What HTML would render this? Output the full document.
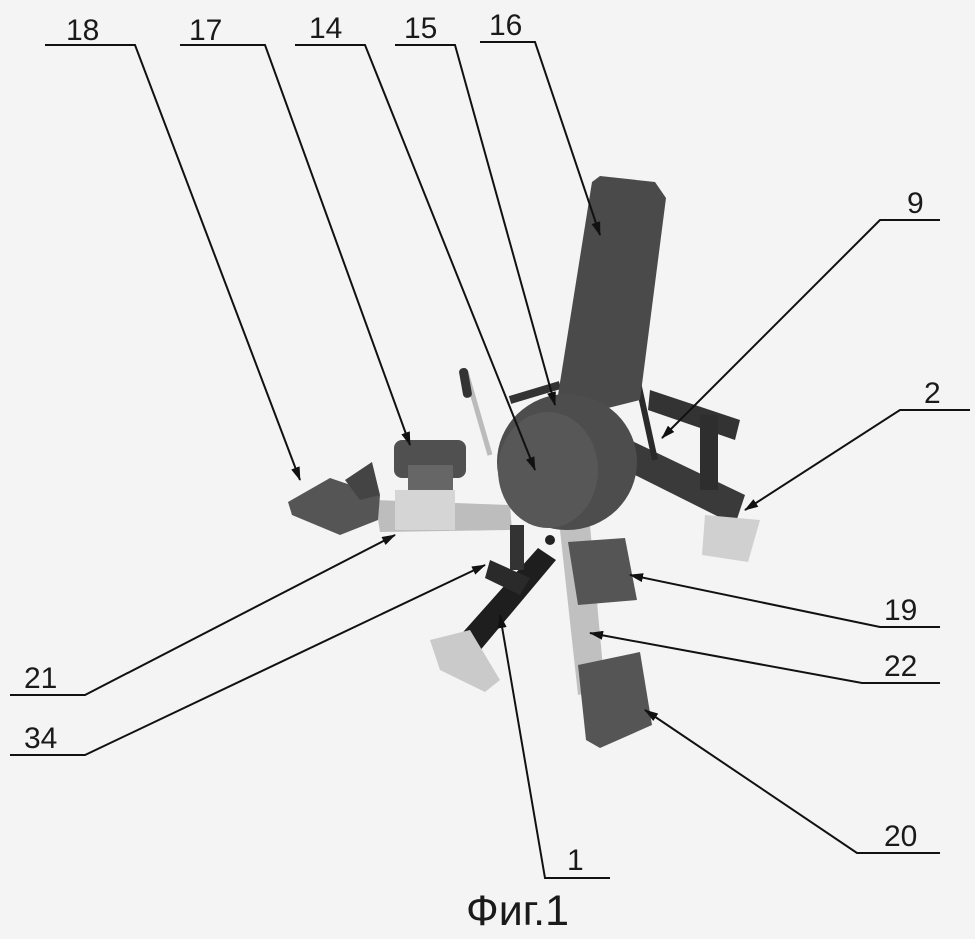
<!DOCTYPE html>
<html><head><meta charset="utf-8"><style>
html,body{margin:0;padding:0;background:#f4f4f4;}
svg{display:block}
text{font-family:"Liberation Sans",sans-serif;fill:#1a1a1a}
</style></head><body>
<svg width="975" height="939" viewBox="0 0 975 939" xmlns="http://www.w3.org/2000/svg">
<defs><marker id="a" markerWidth="14" markerHeight="9" refX="13" refY="4.5" orient="auto" markerUnits="userSpaceOnUse"><path d="M0,0 L14,4.5 L0,9 Z" fill="#111"/></marker></defs>
<rect width="975" height="939" fill="#f4f4f4"/>
<g>
<line x1="466" y1="372" x2="490" y2="455" stroke="#bbb" stroke-width="5"/>
<rect x="461" y="368" width="9" height="30" rx="4" fill="#333" transform="rotate(-10 465 383)"/>
<polygon points="375,500 510,505 512,530 380,532" fill="#bdbdbd"/>
<rect x="395" y="490" width="60" height="40" fill="#d5d5d5"/>
<polygon points="288,502 330,478 380,495 378,520 340,535 292,515" fill="#555"/>
<polygon points="345,480 372,462 380,495 360,500" fill="#444"/>
<rect x="394" y="440" width="72" height="38" rx="8" fill="#505050"/>
<rect x="408" y="465" width="45" height="25" fill="#666"/>
<polygon points="560,530 590,525 605,690 578,695" fill="#c0c0c0"/>
<polygon points="568,542 625,538 637,600 578,605" fill="#555"/>
<polygon points="578,665 640,652 652,725 600,748 586,740" fill="#555"/>
<polygon points="538,548 556,560 462,672 440,658" fill="#1e1e1e"/>
<polygon points="490,560 530,578 520,595 485,578" fill="#2a2a2a"/>
<polygon points="430,640 470,630 500,680 485,692 440,670" fill="#cacaca"/>
<rect x="510" y="525" width="14" height="45" fill="#333"/>
<circle cx="550" cy="540" r="5" fill="#222"/>
<polygon points="630,440 745,495 735,525 625,470" fill="#3a3a3a"/>
<polygon points="650,390 740,420 735,440 648,410" fill="#333"/>
<rect x="700" y="415" width="18" height="75" fill="#2e2e2e"/>
<polygon points="705,515 760,520 748,562 702,555" fill="#d0d0d0"/>
<line x1="620" y1="300" x2="655" y2="460" stroke="#2a2a2a" stroke-width="6"/>
<line x1="510" y1="400" x2="560" y2="385" stroke="#333" stroke-width="8"/>
<polygon points="592,182 600,176 655,182 666,198 640,400 600,410 558,395" fill="#4a4a4a"/>
<ellipse cx="567" cy="462" rx="70" ry="68" fill="#4d4d4d"/>
<ellipse cx="548" cy="470" rx="50" ry="58" fill="#575757"/>
</g>
<g stroke="#111" stroke-width="2" fill="none">
<polyline points="45,45 135,45 300,480" marker-end="url(#a)"/>
<polyline points="180,45 265,45 410,445" marker-end="url(#a)"/>
<polyline points="295,45 365,45 535,470" marker-end="url(#a)"/>
<polyline points="395,45 455,45 555,405" marker-end="url(#a)"/>
<polyline points="480,42 535,42 600,235" marker-end="url(#a)"/>
<polyline points="940,220 880,220 662,438" marker-end="url(#a)"/>
<polyline points="970,410 900,410 745,510" marker-end="url(#a)"/>
<polyline points="940,627 880,627 630,575" marker-end="url(#a)"/>
<polyline points="940,683 862,683 590,633" marker-end="url(#a)"/>
<polyline points="940,853 857,853 645,710" marker-end="url(#a)"/>
<polyline points="610,878 545,878 500,615" marker-end="url(#a)"/>
<polyline points="10,695 85,695 395,535" marker-end="url(#a)"/>
<polyline points="10,755 85,755 485,565" marker-end="url(#a)"/>
</g>
<g font-size="30">
<text x="66" y="40">18</text>
<text x="189" y="40">17</text>
<text x="309" y="38">14</text>
<text x="404" y="38">15</text>
<text x="489" y="35">16</text>
<text x="907" y="213">9</text>
<text x="924" y="403">2</text>
<text x="884" y="620">19</text>
<text x="884" y="676">22</text>
<text x="884" y="846">20</text>
<text x="567" y="870">1</text>
<text x="24" y="688">21</text>
<text x="24" y="748">34</text>
</g>
<text x="466" y="925" font-size="43">Фиг.1</text>
</svg>
</body></html>
